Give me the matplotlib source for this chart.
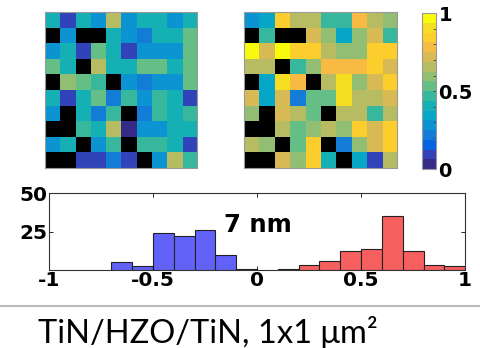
import numpy as np
import matplotlib
matplotlib.use("Agg")
import matplotlib.pyplot as plt
from matplotlib.colors import LinearSegmentedColormap

nan = np.nan

# normalized polarization maps, 10x10 grid, NaN = no switching
map_before = [
    [0.42, 0.10, 0.42, 0.26, 0.68, 0.28, 0.38, 0.38, 0.28, 0.38],
    [nan, 0.28, nan, nan, 0.38, 0.28, 0.20, 0.38, 0.38, 0.50],
    [0.28, 0.38, 0.12, 0.50, 0.38, 0.12, 0.30, 0.30, 0.30, 0.50],
    [0.55, 0.38, nan, 0.68, 0.38, 0.38, 0.50, 0.50, 0.42, 0.50],
    [nan, 0.58, 0.50, 0.44, nan, 0.28, 0.22, 0.28, 0.28, 0.50],
    [0.38, 0.12, 0.38, 0.50, 0.22, 0.44, 0.30, 0.46, 0.38, 0.12],
    [0.28, nan, 0.38, 0.22, 0.44, nan, 0.22, 0.46, 0.40, 0.44],
    [nan, nan, 0.44, 0.40, 0.68, 0.04, 0.28, 0.28, 0.40, 0.40],
    [0.28, 0.38, nan, 0.28, 0.44, nan, 0.46, 0.46, 0.40, 0.12],
    [nan, nan, 0.12, 0.12, 0.20, 0.12, nan, 0.28, 0.68, 0.44],
]
map_after = [
    [0.25, 0.36, 0.83, 0.68, 0.68, 0.48, 0.48, 0.75, 0.68, 0.60],
    [nan, 0.48, nan, nan, 0.74, 0.60, 0.36, 0.58, 0.74, 0.48],
    [1.00, 0.74, 0.98, 0.83, 0.83, 0.66, 0.58, 0.58, 0.83, 0.83],
    [0.66, 0.66, nan, 0.48, 0.58, 0.75, 0.75, 0.75, 0.83, 0.74],
    [nan, 0.36, 0.90, 0.75, nan, 0.66, 0.90, 0.58, 0.74, 0.83],
    [0.74, 0.36, 0.74, 0.20, 0.50, 0.50, 0.90, 0.68, 0.68, 0.74],
    [0.60, nan, 0.74, 0.66, 0.50, nan, 0.66, 0.66, 0.48, 0.68],
    [nan, nan, 0.66, 0.50, 0.58, 0.66, 0.60, 0.83, 0.74, 0.83],
    [0.66, 0.60, nan, 0.50, 0.83, nan, 0.20, 0.58, 0.74, 0.83],
    [nan, nan, 0.74, 0.60, 0.83, 0.40, nan, 0.36, 0.10, 0.66],
]

# histogram of imprint (normalized), bin edges and counts
neg_edges = [-0.7, -0.6, -0.5, -0.4, -0.3, -0.2, -0.1, 0.0]
neg_counts = [5, 2.5, 24, 22, 26, 9.5, 1]
pos_edges = [0.1, 0.2, 0.3, 0.4, 0.5, 0.6, 0.7, 0.8, 0.9, 1.0]
pos_counts = [1, 3.3, 6, 12.5, 13.5, 35, 12.5, 3, 2.5]

hist_label = "7 nm"
caption = "TiN/HZO/TiN, 1x1 \u03bcm\u00b2"

# MATLAB-like parula, sampled
parula_pts = [
    (0.2081, 0.1663, 0.5292), (0.1959, 0.2645, 0.7279), (0.0117, 0.3875, 0.8820),
    (0.0723, 0.4887, 0.8467), (0.0488, 0.5772, 0.8228), (0.0228, 0.6535, 0.7768),
    (0.0843, 0.6928, 0.7062), (0.2178, 0.7250, 0.6193), (0.3953, 0.7459, 0.5244),
    (0.5709, 0.7485, 0.4494), (0.7184, 0.7411, 0.3905), (0.8507, 0.7299, 0.3360),
    (0.9739, 0.7314, 0.2666), (0.9880, 0.8066, 0.1794), (0.9626, 0.8705, 0.1309),
    (0.9763, 0.9831, 0.0538),
]
parula = LinearSegmentedColormap.from_list("parula", parula_pts, N=16)
parula.set_bad("black")

fig = plt.figure(figsize=(4.8, 3.48), dpi=100)

ax1 = fig.add_axes([0.094, 0.517, 0.317, 0.448])
ax2 = fig.add_axes([0.508, 0.517, 0.319, 0.448])
for ax, data in ((ax1, map_before), (ax2, map_after)):
    im = ax.imshow(np.ma.masked_invalid(np.array(data)), cmap=parula,
                   vmin=0, vmax=1, interpolation="nearest", aspect="auto")
    ax.set_xticks([])
    ax.set_yticks([])
    for s in ax.spines.values():
        s.set_color("#999999")
        s.set_linewidth(0.8)

cax = fig.add_axes([0.879, 0.514, 0.029, 0.448])
cb = fig.colorbar(im, cax=cax)
cb.set_ticks([0, 0.5, 1])
cb.set_ticklabels(["0", "0.5", "1"])
cax.set_yticks(np.linspace(0, 1, 11), minor=True)
cax.tick_params(which="both", direction="in", length=2, width=0.6,
                colors="#444444", labelsize=14, pad=2)
for lab in cax.get_yticklabels():
    lab.set_fontweight("bold")
    lab.set_color("black")
cb.outline.set_edgecolor("#999999")
cb.outline.set_linewidth(0.8)

# imprint histogram
ax3 = fig.add_axes([0.102, 0.224, 0.867, 0.221])
ax3.bar(neg_edges[:-1], neg_counts, width=np.diff(neg_edges), align="edge",
        color="#6262f8", edgecolor="#222222", linewidth=0.8)
ax3.bar(pos_edges[:-1], pos_counts, width=np.diff(pos_edges), align="edge",
        color="#f86060", edgecolor="#222222", linewidth=0.8)
ax3.set_xlim(-1, 1)
ax3.set_ylim(0, 50)
ax3.set_xticks([-1, -0.5, 0, 0.5, 1])
ax3.set_xticklabels(["-1", "-0.5", "0", "0.5", "1"])
ax3.set_yticks([25, 50])
ax3.tick_params(direction="in", top=True, right=True, length=3, width=0.6,
                labelsize=14.5, pad=1)
for lab in ax3.get_xticklabels() + ax3.get_yticklabels():
    lab.set_fontweight("bold")
for s in ax3.spines.values():
    s.set_linewidth(0.8)
    s.set_color("#333333")
ax3.text(-0.16, 29, hist_label, fontsize=17.5, fontweight="bold",
         ha="left", va="center")

# separator and caption
fig.add_artist(plt.Line2D([0, 1], [0.121, 0.121], color="#bbbbbb", lw=1.5))
fig.text(0.079, 0.014, caption, fontsize=23.5, family=["Lato", "DejaVu Sans"],
         ha="left", va="baseline")

fig.savefig("out.png", dpi=100)
